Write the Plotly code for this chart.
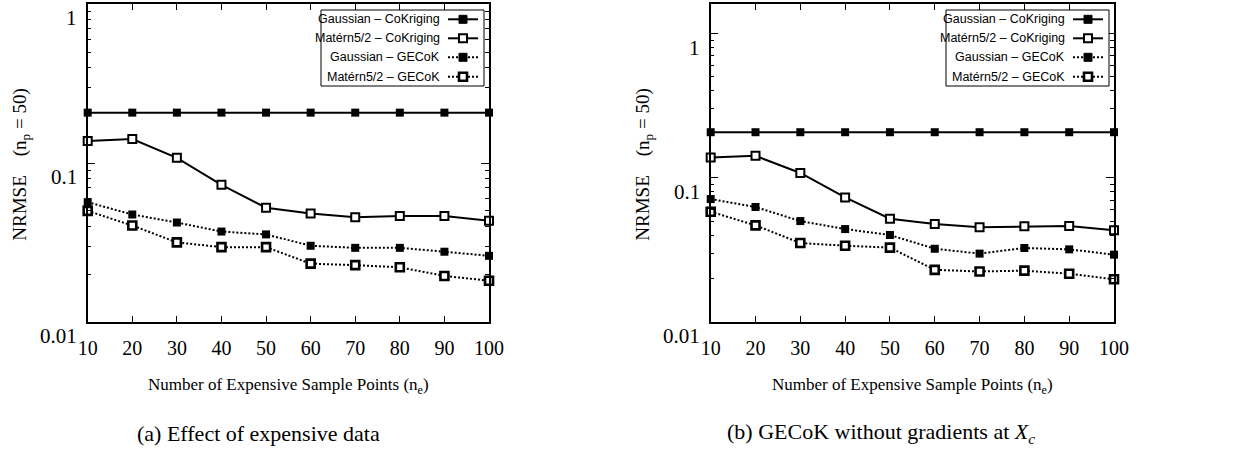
import plotly.graph_objects as go
import math

# ---------------- data ----------------
n_e = [10, 20, 30, 40, 50, 60, 70, 80, 90, 100]

# panel (a): Effect of expensive data
a_gauss_cok = [0.208, 0.208, 0.208, 0.208, 0.208, 0.208, 0.208, 0.208, 0.208, 0.208]
a_matern_cok = [0.138, 0.142, 0.108, 0.073, 0.0524, 0.0482, 0.0457, 0.0464, 0.0465, 0.0434]
a_gauss_gecok = [0.0568, 0.0475, 0.0423, 0.0371, 0.0356, 0.0302, 0.0293, 0.0293, 0.0277, 0.0261]
a_matern_gecok = [0.0501, 0.0405, 0.0317, 0.0296, 0.0296, 0.0233, 0.0228, 0.0221, 0.0195, 0.0182]

# panel (b): GECoK without gradients at Xc
b_gauss_cok = [0.207, 0.207, 0.207, 0.207, 0.207, 0.207, 0.207, 0.207, 0.207, 0.207]
b_matern_cok = [0.138, 0.142, 0.108, 0.0731, 0.052, 0.0478, 0.0454, 0.0461, 0.0463, 0.0432]
b_gauss_gecok = [0.0712, 0.0627, 0.0501, 0.0441, 0.0401, 0.0322, 0.0298, 0.0326, 0.0319, 0.0293]
b_matern_gecok = [0.0582, 0.0468, 0.0353, 0.0338, 0.0328, 0.0230, 0.0224, 0.0227, 0.0216, 0.0198]

series_names = ["Gaussian \u2013 CoKriging", "Mat\u00e9rn5/2 \u2013 CoKriging",
                "Gaussian \u2013 GECoK", "Mat\u00e9rn5/2 \u2013 GECoK"]
y_major = [0.01, 0.1, 1]
y_major_text = ["0.01", "0.1", "1"]
x_title = "Number of Expensive Sample Points (n<sub>e</sub>)"
y_title = "NRMSE &nbsp;&nbsp;&nbsp;(n<sub>p</sub> = 50)"
captions = ["(a) Effect of expensive data", "(b) GECoK without gradients at <i>X<sub>c</sub></i>"]

# ---------------- layout helpers ----------------
W, H = 1239, 452
def px(x): return x / W
def py(y): return 1 - y / H

SERIF = "Liberation Serif"
SANS = "Liberation Sans"

styles = [
    dict(dash="solid", symbol="square", fill="black", lw=0),
    dict(dash="solid", symbol="square", fill="white", lw=2),
    dict(dash="2px,2px", symbol="square", fill="black", lw=0),
    dict(dash="2px,2px", symbol="square", fill="white", lw=2.6),
]

fig = go.Figure()

panels = [
    dict(data=[a_gauss_cok, a_matern_cok, a_gauss_gecok, a_matern_gecok],
         xd=(87.7, 489), yr=(-2, 0), xa="x", ya="y", cap_x=258),
    dict(data=[b_gauss_cok, b_matern_cok, b_gauss_gecok, b_matern_gecok],
         xd=(710.7, 1114), yr=(-2, 0.203), xa="x2", ya="y2", cap_x=881),
]

minor_vals = [m * 10 ** e for e in (-2, -1, 0) for m in range(2, 10)]

annotations = []
shapes = []
for i, p in enumerate(panels):
    for s, st, name in zip(p["data"], styles, series_names):
        fig.add_trace(go.Scatter(
            x=n_e, y=s, mode="lines+markers", name=name, showlegend=False,
            xaxis=p["xa"], yaxis=p["ya"], cliponaxis=False,
            line=dict(color="black", width=2, dash=st["dash"]),
            marker=dict(symbol=st["symbol"], size=8, color=st["fill"],
                        line=dict(color="black", width=st["lw"])),
        ))
    sfx = "" if i == 0 else "2"
    ax = dict(
        domain=[px(p["xd"][0]), px(p["xd"][1])], range=[10, 100],
        tickvals=n_e, ticks="inside", ticklen=6, tickwidth=1, tickcolor="black",
        showline=True, linecolor="black", linewidth=1.5, mirror="ticks",
        showgrid=False, zeroline=False, anchor="y" + sfx,
        tickfont=dict(family=SERIF, size=20, color="black"), ticklabelstandoff=7,
    )
    ay = dict(
        domain=[py(322), py(4.3)], type="log", range=list(p["yr"]),
        tickvals=y_major, showticklabels=False,
        ticks="inside", ticklen=8, tickwidth=1, tickcolor="black",
        minor=dict(tickvals=minor_vals, ticks="inside", ticklen=4, tickwidth=1, tickcolor="black"),
        showline=True, linecolor="black", linewidth=1.5, mirror="ticks",
        showgrid=False, zeroline=False, anchor="x" + sfx,
    )
    fig.update_layout(**{"xaxis" + sfx: ax, "yaxis" + sfx: ay})

    # y tick labels (placed slightly below ticks, as in the original)
    for v, t in zip(y_major, y_major_text):
        annotations.append(dict(
            x=0, xref=p["xa"] + " domain", y=math.log10(v), yref=p["ya"],
            text=t, showarrow=False, xanchor="right", yanchor="middle",
            xshift=-9, yshift=-14, font=dict(family=SERIF, size=21, color="black")))
    # axis titles
    cx = (p["xd"][0] + p["xd"][1]) / 2
    annotations.append(dict(x=px(cx), y=py(386), xref="paper", yref="paper", text=x_title,
                            showarrow=False, xanchor="center", yanchor="middle",
                            font=dict(family=SERIF, size=17, color="black")))
    annotations.append(dict(x=px(p["xd"][0] - 67), y=py(164), xref="paper", yref="paper",
                            text=y_title, textangle=-90, showarrow=False,
                            xanchor="center", yanchor="middle",
                            font=dict(family=SERIF, size=19, color="black")))
    # caption
    annotations.append(dict(x=px(p["cap_x"]), y=py(433), xref="paper", yref="paper",
                            text=captions[i], showarrow=False, xanchor="center", yanchor="middle",
                            font=dict(family=SERIF, size=22, color="black")))

    # manual legend (text left of sample, gnuplot style)
    off = p["xd"][1] - 489
    bx0, bx1, by0, by1 = 321 + off, 484 + off, 10, 86
    shapes.append(dict(type="rect", xref="paper", yref="paper",
                       x0=px(bx0), x1=px(bx1), y0=py(by1), y1=py(by0),
                       line=dict(color="black", width=1), fillcolor="white"))
    rows = [19.3, 38.3, 57.3, 76.7]
    for ry, st, name in zip(rows, styles, series_names):
        annotations.append(dict(x=px(442 + off), y=py(ry), xref="paper", yref="paper",
                                text=name, showarrow=False, xanchor="right", yanchor="middle",
                                font=dict(family=SANS, size=12.5, color="black")))
        shapes.append(dict(type="line", xref="paper", yref="paper",
                           x0=px(448 + off), x1=px(478 + off), y0=py(ry), y1=py(ry),
                           line=dict(color="black", width=2, dash=st["dash"])))
        shapes.append(dict(type="rect", xref="paper", yref="paper",
                           x0=px(459 + off), x1=px(467 + off), y0=py(ry + 4), y1=py(ry - 4),
                           line=dict(color="black", width=max(st["lw"], 1)),
                           fillcolor=st["fill"]))

fig.update_layout(
    width=W, height=H, margin=dict(l=0, r=0, t=0, b=0, autoexpand=False),
    paper_bgcolor="white", plot_bgcolor="white",
    annotations=annotations, shapes=shapes, showlegend=False,
)
fig.write_html("out.html")
